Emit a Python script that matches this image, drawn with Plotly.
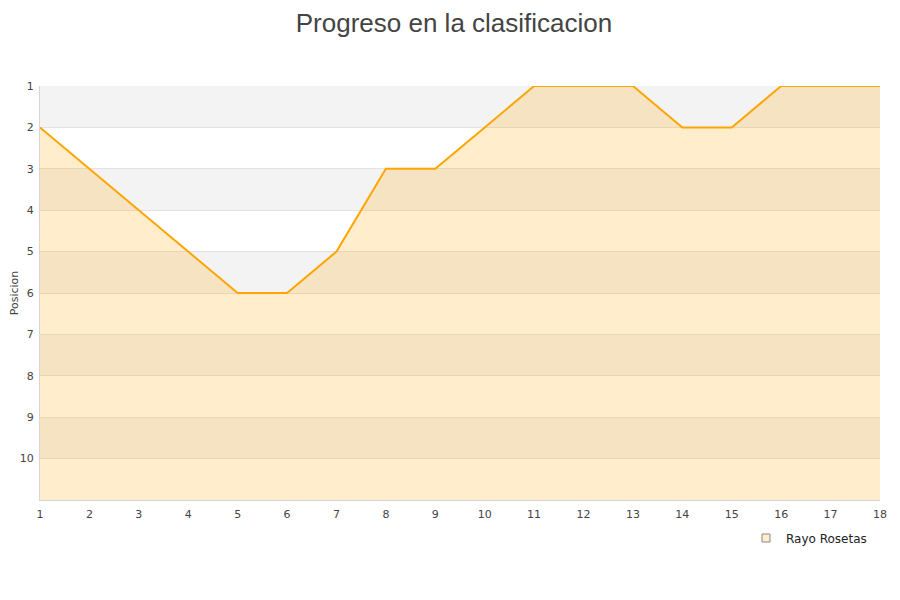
import plotly.graph_objects as go

jornadas = list(range(1, 19))
posiciones = [2, 3, 4, 5, 6, 6, 5, 3, 3, 2, 1, 1, 1, 2, 2, 1, 1, 1]
equipo = "Rayo Rosetas"
y_ticks = list(range(1, 11))
fondo = 11

fig = go.Figure()
fig.add_trace(go.Scatter(x=jornadas, y=[fondo] * len(jornadas), mode="lines",
                         line=dict(width=0, color="rgba(0,0,0,0)"),
                         showlegend=False, hoverinfo="skip"))
fig.add_trace(go.Scatter(x=jornadas, y=posiciones, mode="lines", name=equipo,
                         line=dict(color="#ffa500", width=2),
                         fill="tonexty", fillcolor="rgba(255,165,0,0.2)",
                         showlegend=False))
# legend-only entry with a square swatch
fig.add_trace(go.Scatter(x=[None], y=[None], mode="markers", name=equipo,
                         marker=dict(symbol="square", size=8, color="#ffeecc",
                                     line=dict(color="#888", width=1))))

shapes = []
for k in range(1, 11, 2):
    shapes.append(dict(type="rect", xref="paper", yref="y", x0=0, x1=1, y0=k, y1=k + 1,
                       fillcolor="#f3f3f3", line=dict(width=0), layer="below"))
fig.update_layout(shapes=shapes)

W, H = 892, 592
fig.update_layout(
    width=W, height=H,
    margin=dict(l=32, r=20, t=78, b=100),
    paper_bgcolor="white", plot_bgcolor="white",
    font=dict(family="DejaVu Sans", size=11, color="#444"),
    title=dict(text="Progreso en la clasificacion", x=0.5, xanchor="center",
               yref="container", y=1 - 15 / H, yanchor="middle",
               font=dict(family="Liberation Sans", size=26, color="#444")),
    xaxis=dict(range=[1, 18], tickvals=jornadas, showgrid=False, zeroline=False,
               showline=True, linecolor="#d6d6d6", linewidth=1, ticks="",
               ticklabelstandoff=4,
               automargin=False, tickfont=dict(size=11, color="#444")),
    yaxis=dict(range=[11, 1], tickvals=y_ticks, showgrid=True, gridcolor="#e2e2e2",
               zeroline=False, showline=True, linecolor="#d6d6d6", linewidth=1, ticks="",
               ticklabelstandoff=3,
               automargin=False,
               title=dict(text="Posicion", font=dict(size=11, color="#444"), standoff=0),
               tickfont=dict(size=11, color="#444")),
    legend=dict(orientation="h", x=1 - 8 / 840, xanchor="right", y=-38 / 414, yanchor="middle",
                font=dict(size=12, color="#222"), bgcolor="rgba(0,0,0,0)"),
    showlegend=True,
)

fig.write_html("out.html")
